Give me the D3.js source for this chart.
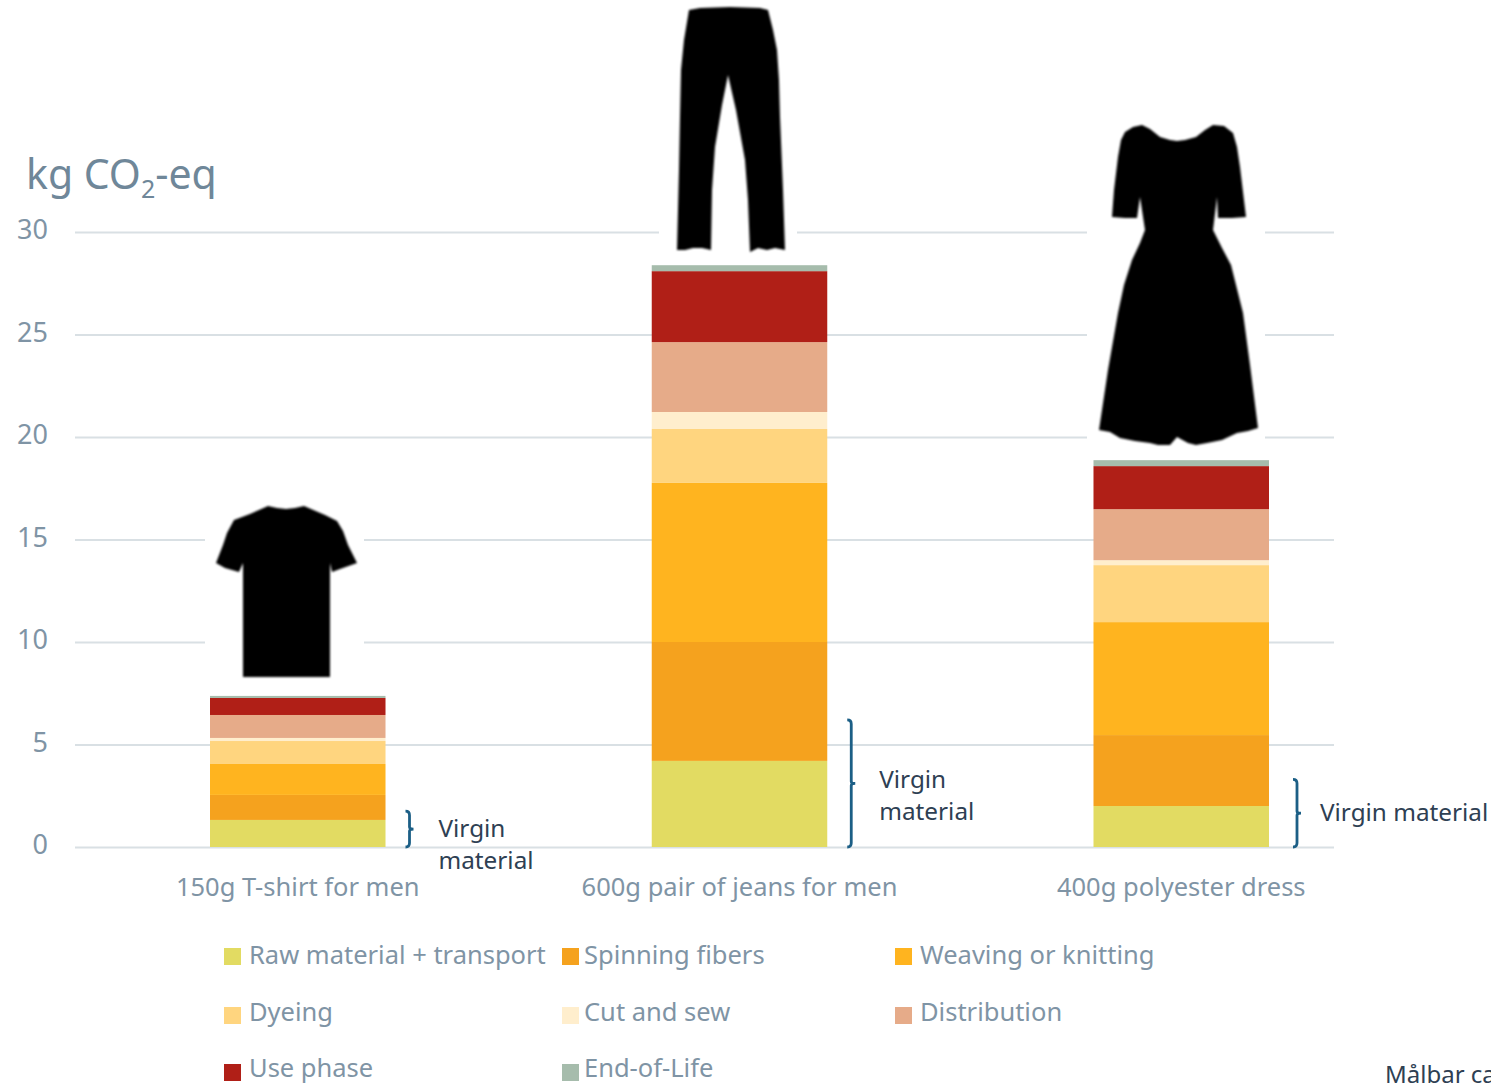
<!DOCTYPE html>
<html>
<head>
<meta charset="utf-8">
<script src="https://cdn.jsdelivr.net/npm/d3@7"></script>
<style>
html,body{margin:0;padding:0;background:#fff;overflow:hidden}
svg{display:block;font-family:"Noto Sans",sans-serif}
</style>
</head>
<body>
<svg id="c" width="1491" height="1084">
  <defs><filter id="soft" x="-5%" y="-5%" width="110%" height="110%"><feGaussianBlur stdDeviation="0.8"/></filter></defs>
</svg>
<script>
const categories = ["150g T-shirt for men","600g pair of jeans for men","400g polyester dress"];
const stages = ["Raw material + transport","Spinning fibers","Weaving or knitting","Dyeing","Cut and sew","Distribution","Use phase","End-of-Life"];
const stageColors = ["#e2db62","#f5a21e","#ffb41f","#ffd57f","#ffeecd","#e6ab89","#b01f17","#a6bcac"];
const tshirtValues = [1.32,1.22,1.51,1.12,0.15,1.12,0.83,0.10];
const jeansValues  = [4.20,5.80,7.76,2.63,0.83,3.41,3.46,0.29];
const dressValues  = [2.00,3.46,5.51,2.78,0.24,2.49,2.10,0.29];
const virginBrace  = [1.75,6.20,3.30];
const virginLabels = [["Virgin","material"],["Virgin","material"],["Virgin material"]];
const yTicks = [0,5,10,15,20,25,30];

const svg = d3.select("#c");
const y = d3.scaleLinear().domain([0,30]).range([847,232]);
const x = d3.scaleBand().domain(categories).range([210,1269]).paddingInner(0.6027).paddingOuter(0);
const gridLeft = 75, gridRight = 1334;
const tickColor = "#7f94a5", gridColor = "#d9e0e4";

// value axis + gridlines
const yAxis = svg.append("g").attr("transform",`translate(${gridLeft},0)`)
  .call(d3.axisLeft(y).tickValues(yTicks).tickSize(-(gridRight-gridLeft)).tickPadding(27));
yAxis.select(".domain").remove();
yAxis.selectAll(".tick line").attr("stroke",gridColor).attr("stroke-width",2.2);
yAxis.selectAll(".tick text").attr("fill",tickColor).attr("font-size",27).attr("dy","0.25em")
  .attr("font-family",'"Noto Sans",sans-serif');

// white halos of pasted silhouettes, which interrupt the gridlines
const halos = [[205,500,159,192],[659,0,138,264],[1087,115,178,343]];
svg.append("g").selectAll("rect").data(halos).join("rect")
  .attr("x",d=>d[0]).attr("y",d=>d[1]).attr("width",d=>d[2]).attr("height",d=>d[3]).attr("fill","#fff");

// stacked bars
const rows = categories.map((c,i)=>{
  const r={category:c};
  stages.forEach((s,j)=>{ r[s]=[tshirtValues,jeansValues,dressValues][i][j]; });
  return r;
});
const stack = d3.stack().keys(stages)(rows);
svg.append("g").selectAll("g").data(stack).join("g")
  .attr("fill",(d,i)=>stageColors[i])
  .selectAll("rect").data(d=>d.map(v=>({v,cat:v.data.category}))).join("rect")
  .attr("x",d=>x(d.cat)).attr("width",x.bandwidth())
  .attr("y",d=>y(d.v[1])).attr("height",d=>y(d.v[0])-y(d.v[1]));

// category axis
const xAxis = svg.append("g").attr("transform","translate(0,847)")
  .call(d3.axisBottom(x).tickSize(0).tickPadding(31));
xAxis.select(".domain").remove();
xAxis.selectAll(".tick text").attr("fill",tickColor).attr("font-size",25.5)
  .attr("font-family",'"Noto Sans",sans-serif');

// silhouettes
const tshirtShape = [[268,506],[277,508],[286,509],[295,508],[304,506],[325,515],[337,521],[343,531],[348,545],[357,563],[340,569],[332,572],[330,563],[330,677],[243,677],[243,563],[239,572],[225,568],[216,563],[223,545],[227,533],[234,520],[250,514]];
const jeansShape = [[689,10],[700,8],[730,7],[760,8],[768,10],[773,30],[777,50],[779,80],[780,117],[783,190],[785,250],[775,248],[767,250],[758,248],[750,252],[748,200],[745,160],[736,110],[728,75],[722,105],[715,147],[712,190],[711,250],[702,248],[693,248],[685,250],[677,250],[679,170],[680,117],[681,70],[684,40]];
const dressShape = [[1133,127],[1142,125],[1150,129],[1160,137],[1170,140],[1177,141],[1185,140],[1196,137],[1205,130],[1213,125],[1224,126],[1233,133],[1237,147],[1240,167],[1243,192],[1246,217],[1232,218],[1218,218],[1217,197],[1213,230],[1222,248],[1231,265],[1243,313],[1250,365],[1258,428],[1248,431],[1237,433],[1222,440],[1207,443],[1196,445],[1188,443],[1177,437],[1170,445],[1158,445],[1150,443],[1135,441],[1120,438],[1110,432],[1099,430],[1108,370],[1118,313],[1124,285],[1132,260],[1140,243],[1145,230],[1140,197],[1137,218],[1125,218],[1112,217],[1114,190],[1118,157],[1121,140],[1125,132]];
const outline = d3.line().curve(d3.curveLinearClosed);
svg.append("g").attr("filter","url(#soft)").selectAll("path").data([tshirtShape,jeansShape,dressShape]).join("path")
  .attr("d",d=>outline(d)).attr("fill","#000");

// virgin material braces
categories.forEach((c,i)=>{
  const bx = x(c)+x.bandwidth()+(i===2?24:20);
  const t = y(virginBrace[i]), b = y(0), m=(t+b)/2;
  svg.append("path").attr("fill","none").attr("stroke","#1c5f86").attr("stroke-width",2.8)
    .attr("d",`M${bx},${t}q4,0 4,4V${m-2}q0,2 4,2q-4,0 -4,2V${b-4}q0,4 -4,4`);
  const lines = virginLabels[i];
  const lx = bx+[33,32,27][i];
  const ly0 = [837,788,821][i];
  svg.append("text").attr("fill","#2e4053").attr("font-size",24.3)
    .selectAll("tspan").data(lines).join("tspan")
    .attr("x",lx).attr("y",(d,k)=>ly0+k*32).text(d=>d);
});

// title
const title = svg.append("text").attr("x",26).attr("y",189).attr("fill","#6f8799").attr("font-size",41);
title.append("tspan").text("kg CO");
title.append("tspan").attr("font-size",25).attr("dy",9).text("2");
title.append("tspan").attr("dy",-9).text("-eq");

// legend
const legendCols = [[224,249],[562,584],[895,920]];
const legendRows = [[948,964],[1007,1021],[1064,1077]];
const legend = svg.append("g").selectAll("g").data(stages).join("g");
legend.append("rect")
  .attr("x",(d,i)=>legendCols[i%3][0]).attr("y",(d,i)=>legendRows[Math.floor(i/3)][0])
  .attr("width",17).attr("height",17).attr("fill",(d,i)=>stageColors[i]);
legend.append("text")
  .attr("x",(d,i)=>legendCols[i%3][1]).attr("y",(d,i)=>legendRows[Math.floor(i/3)][1])
  .attr("fill",tickColor).attr("font-size",25.5).text(d=>d);

// text clipped at the page edge in the reference
svg.append("text").attr("x",1385).attr("y",1083).attr("fill","#2e4053").attr("font-size",24).text("Målbar ca");
</script>
</body>
</html>
